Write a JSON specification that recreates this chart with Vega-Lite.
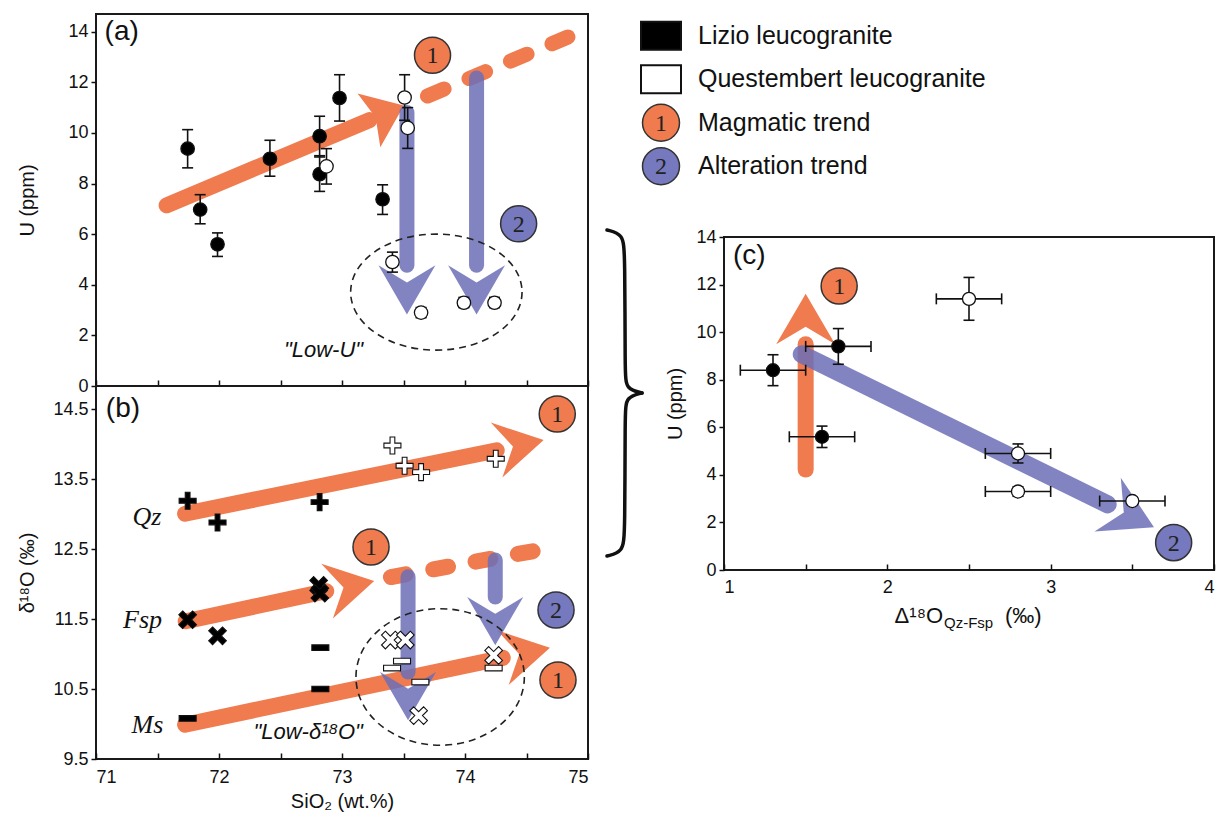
{
  "$schema": "https://vega.github.io/schema/vega-lite/v6.json",
  "background": "white",
  "padding": {"left": 16, "top": 6, "right": 6, "bottom": 6},
  "config": {
    "font": "Liberation Sans",
    "view": {"stroke": "#1a1a1a", "strokeWidth": 2},
    "axis": {"grid": false, "domain": false, "labelFont": "Liberation Sans, DejaVu Sans", "labelFontSize": 18, "labelColor": "#111", "titleFont": "Liberation Sans, DejaVu Sans", "titleFontSize": 20, "titleFontWeight": "normal", "titleColor": "#111", "tickColor": "#111", "tickWidth": 1.5, "tickSize": 5, "labelPadding": 3},
    "text": {"font": "Liberation Sans, DejaVu Sans", "color": "#111"}
  },
  "datasets": {
    "apts": [
      {"sio2": 71.745, "u": 9.38, "u_lo": 8.62, "u_hi": 10.13, "key": "Lizio"},
      {"sio2": 71.847, "u": 6.97, "u_lo": 6.41, "u_hi": 7.56, "key": "Lizio"},
      {"sio2": 71.988, "u": 5.6, "u_lo": 5.12, "u_hi": 6.05, "key": "Lizio"},
      {"sio2": 72.414, "u": 8.98, "u_lo": 8.29, "u_hi": 9.71, "key": "Lizio"},
      {"sio2": 72.818, "u": 9.87, "u_lo": 9.05, "u_hi": 10.66, "key": "Lizio"},
      {"sio2": 72.818, "u": 8.37, "u_lo": 7.69, "u_hi": 9.1, "key": "Lizio"},
      {"sio2": 72.98, "u": 11.38, "u_lo": 10.47, "u_hi": 12.3, "key": "Lizio"},
      {"sio2": 73.33, "u": 7.38, "u_lo": 6.78, "u_hi": 7.95, "key": "Lizio"},
      {"sio2": 72.874, "u": 8.68, "u_lo": 7.98, "u_hi": 9.38, "key": "Questembert"},
      {"sio2": 73.509, "u": 11.4, "u_lo": 10.5, "u_hi": 12.3, "key": "Questembert"},
      {"sio2": 73.534, "u": 10.2, "u_lo": 9.39, "u_hi": 11.0, "key": "Questembert"},
      {"sio2": 73.41, "u": 4.9, "u_lo": 4.5, "u_hi": 5.29, "key": "Questembert"},
      {"sio2": 73.643, "u": 2.9, "u_lo": 2.7, "u_hi": 3.1, "key": "Questembert"},
      {"sio2": 73.991, "u": 3.29, "u_lo": 3.1, "u_hi": 3.5, "key": "Questembert"},
      {"sio2": 74.24, "u": 3.29, "u_lo": 3.1, "u_hi": 3.5, "key": "Questembert"}
    ],
    "bpts": [
      {"sio2": 71.745, "d18o": 13.19, "mineral": "Qz", "key": "Lizio"},
      {"sio2": 71.988, "d18o": 12.88, "mineral": "Qz", "key": "Lizio"},
      {"sio2": 72.818, "d18o": 13.17, "mineral": "Qz", "key": "Lizio"},
      {"sio2": 73.41, "d18o": 13.98, "mineral": "Qz", "key": "Questembert"},
      {"sio2": 73.509, "d18o": 13.69, "mineral": "Qz", "key": "Questembert"},
      {"sio2": 73.643, "d18o": 13.6, "mineral": "Qz", "key": "Questembert"},
      {"sio2": 74.25, "d18o": 13.79, "mineral": "Qz", "key": "Questembert"},
      {"sio2": 71.745, "d18o": 11.49, "mineral": "Fsp", "key": "Lizio"},
      {"sio2": 71.988, "d18o": 11.26, "mineral": "Fsp", "key": "Lizio"},
      {"sio2": 72.81, "d18o": 11.98, "mineral": "Fsp", "key": "Lizio"},
      {"sio2": 72.82, "d18o": 11.87, "mineral": "Fsp", "key": "Lizio"},
      {"sio2": 73.393, "d18o": 11.2, "mineral": "Fsp", "key": "Questembert"},
      {"sio2": 73.515, "d18o": 11.2, "mineral": "Fsp", "key": "Questembert"},
      {"sio2": 73.623, "d18o": 10.12, "mineral": "Fsp", "key": "Questembert"},
      {"sio2": 74.233, "d18o": 10.98, "mineral": "Fsp", "key": "Questembert"},
      {"sio2": 71.745, "d18o": 10.08, "mineral": "Ms", "key": "Lizio"},
      {"sio2": 72.824, "d18o": 11.09, "mineral": "Ms", "key": "Lizio"},
      {"sio2": 72.824, "d18o": 10.5, "mineral": "Ms", "key": "Lizio"},
      {"sio2": 73.407, "d18o": 10.8, "mineral": "Ms", "key": "Questembert"},
      {"sio2": 73.488, "d18o": 10.9, "mineral": "Ms", "key": "Questembert"},
      {"sio2": 73.637, "d18o": 10.6, "mineral": "Ms", "key": "Questembert"},
      {"sio2": 74.233, "d18o": 10.8, "mineral": "Ms", "key": "Questembert"}
    ],
    "cpts": [
      {"dq": 1.3, "u": 8.4, "u_lo": 7.75, "u_hi": 9.05, "dq_lo": 1.1, "dq_hi": 1.5, "key": "Lizio"},
      {"dq": 1.7, "u": 9.4, "u_lo": 8.65, "u_hi": 10.15, "dq_lo": 1.5, "dq_hi": 1.9, "key": "Lizio"},
      {"dq": 1.6, "u": 5.6, "u_lo": 5.15, "u_hi": 6.05, "dq_lo": 1.4, "dq_hi": 1.8, "key": "Lizio"},
      {"dq": 2.5, "u": 11.4, "u_lo": 10.5, "u_hi": 12.3, "dq_lo": 2.3, "dq_hi": 2.7, "key": "Questembert"},
      {"dq": 2.8, "u": 4.9, "u_lo": 4.5, "u_hi": 5.3, "dq_lo": 2.6, "dq_hi": 3.0, "key": "Questembert"},
      {"dq": 2.8, "u": 3.3, "u_lo": 3.1, "u_hi": 3.5, "dq_lo": 2.6, "dq_hi": 3.0, "key": "Questembert"},
      {"dq": 3.5, "u": 2.9, "u_lo": 2.75, "u_hi": 3.05, "dq_lo": 3.3, "dq_hi": 3.7, "key": "Questembert"}
    ]
  },
  "spacing": 0,
  "hconcat": [
    {
      "vconcat": [
        {
          "width": 492,
          "height": 372,
          "encoding": {
            "x": {"field": "sio2", "type": "quantitative", "scale": {"domain": [71, 75], "nice": false, "zero": false}, "axis": {"values": [71, 71.5, 72, 72.5, 73, 73.5, 74, 74.5, 75], "labels": false, "tickSize": -6, "title": null}},
            "y": {"field": "u", "type": "quantitative", "scale": {"domain": [0, 14.7], "nice": false, "zero": false}, "axis": {"values": [0, 2, 4, 6, 8, 10, 12, 14], "title": "U (ppm)", "titlePadding": 30}}
          },
          "layer": [
            {"data": {"values": [{"sio2": 71.574, "u": 7.14}, {"sio2": 73.224, "u": 10.51}]},
             "mark": {"type": "line", "stroke": "#ef7b4f", "strokeWidth": 16, "strokeCap": "round"}},
            {"data": {"values": [{"sio2": 73.35, "u": 10.77}]},
             "mark": {"type": "point", "shape": "M -0.6 -1 L 0.7 0 L -0.6 1 L -0.35 0 Z", "size": 3400, "angle": 337, "filled": true, "fill": "#ef7b4f", "strokeWidth": 0, "opacity": 1}},
            {"data": {"values": [{"sio2": 73.695, "u": 11.46}, {"sio2": 74.837, "u": 13.79}]},
             "mark": {"type": "line", "stroke": "#ef7b4f", "strokeWidth": 15, "strokeCap": "round", "strokeDash": [18, 27]}},
            {"data": {"values": [{"arrow": "a", "sio2": 73.528, "u": 10.81}, {"arrow": "a", "sio2": 73.528, "u": 4.77}, {"arrow": "b", "sio2": 74.094, "u": 12.17}, {"arrow": "b", "sio2": 74.094, "u": 4.77}]},
             "mark": {"type": "line", "stroke": "#6c6eb7", "strokeWidth": 15, "strokeCap": "round", "opacity": 0.85},
             "encoding": {"detail": {"field": "arrow"}}},
            {"data": {"values": [{"sio2": 73.528, "u": 3.81}, {"sio2": 74.094, "u": 3.81}]},
             "mark": {"type": "point", "shape": "M -0.85 -1 L 0.87 0 L -0.85 1 L -0.25 0 Z", "size": 3249, "angle": 90, "filled": true, "fill": "#6c6eb7", "strokeWidth": 0, "opacity": 0.85}},
            {"data": {"values": [{"sio2": 73.767, "u": 3.71}]},
             "mark": {"type": "point", "shape": "M 1 0 C 1 0.374 0.552 0.677 0 0.677 C -0.552 0.677 -1 0.374 -1 0 C -1 -0.374 -0.552 -0.677 0 -0.677 C 0.552 -0.677 1 -0.374 1 0 Z", "size": 29378, "filled": false, "stroke": "#222", "strokeWidth": 1.6, "strokeDash": [7, 5], "opacity": 1}},
            {"data": {"name": "apts"},
             "mark": {"type": "rule", "color": "#111", "strokeWidth": 1.6},
             "encoding": {"y": {"field": "u_lo", "type": "quantitative", "title": "U (ppm)"}, "y2": {"field": "u_hi"}}},
            {"data": {"name": "apts"},
             "mark": {"type": "point", "shape": "stroke", "size": 121, "filled": false, "stroke": "#111", "strokeWidth": 1.6, "opacity": 1},
             "encoding": {"y": {"field": "u_lo", "type": "quantitative", "title": "U (ppm)"}}},
            {"data": {"name": "apts"},
             "mark": {"type": "point", "shape": "stroke", "size": 121, "filled": false, "stroke": "#111", "strokeWidth": 1.6, "opacity": 1},
             "encoding": {"y": {"field": "u_hi", "type": "quantitative", "title": "U (ppm)"}}},
            {"data": {"name": "apts"},
             "mark": {"type": "point", "shape": "circle", "size": 180, "filled": true, "stroke": "#111", "strokeWidth": 1.3, "opacity": 1},
             "encoding": {"fill": {"field": "key", "type": "nominal", "scale": {"domain": ["Lizio", "Questembert", "1", "2"], "range": ["#000000", "#ffffff", "#ef7b4f", "#7679bd"]}, "legend": null}}},
            {"data": {"values": [{"sio2": 73.736, "u": 13.07, "key": "1"}, {"sio2": 74.436, "u": 6.41, "key": "2"}]},
             "mark": {"type": "point", "shape": "circle", "size": 1300, "filled": true, "stroke": "#333", "strokeWidth": 1.5, "opacity": 1},
             "encoding": {"fill": {"field": "key", "type": "nominal", "scale": {"domain": ["Lizio", "Questembert", "1", "2"], "range": ["#000000", "#ffffff", "#ef7b4f", "#7679bd"]}, "legend": null}}},
            {"data": {"values": [{"sio2": 73.736, "u": 13.07, "key": "1"}, {"sio2": 74.436, "u": 6.41, "key": "2"}]},
             "mark": {"type": "text", "font": "Liberation Serif", "fontSize": 24, "color": "#222", "dy": 1},
             "encoding": {"text": {"field": "key"}}},
            {"data": {"values": [{"sio2": 71.07, "u": 13.99, "txt": "(a)"}]},
             "mark": {"type": "text", "align": "left", "fontSize": 28},
             "encoding": {"text": {"field": "txt"}}},
            {"data": {"values": [{"sio2": 72.85, "u": 1.41, "txt": "\"Low-U\""}]},
             "mark": {"type": "text", "fontSize": 22, "fontStyle": "italic"},
             "encoding": {"text": {"field": "txt"}}}
          ]
        },
        {
          "width": 492,
          "height": 373,
          "encoding": {
            "x": {"field": "sio2", "type": "quantitative", "scale": {"domain": [71, 75], "nice": false, "zero": false}, "axis": {"values": [71, 71.5, 72, 72.5, 73, 73.5, 74, 74.5, 75], "labelExpr": "datum.value % 1 == 0 ? format(datum.value, 'd') : ''", "tickSize": -6, "labelPadding": 15, "title": "SiO₂ (wt.%)", "titlePadding": 5}},
            "y": {"field": "d18o", "type": "quantitative", "scale": {"domain": [9.5, 14.83], "nice": false, "zero": false}, "axis": {"values": [9.5, 10.5, 11.5, 12.5, 13.5, 14.5], "format": ".1f", "title": "δ¹⁸O (‰)", "titlePadding": 15}}
          },
          "layer": [
            {"data": {"values": [{"arrow": "qz", "sio2": 71.724, "d18o": 13.005}, {"arrow": "qz", "sio2": 74.258, "d18o": 13.911}, {"arrow": "fsp", "sio2": 71.729, "d18o": 11.468}, {"arrow": "fsp", "sio2": 72.872, "d18o": 11.898}, {"arrow": "ms", "sio2": 71.724, "d18o": 9.99}, {"arrow": "ms", "sio2": 74.307, "d18o": 10.946}]},
             "mark": {"type": "line", "stroke": "#ef7b4f", "strokeWidth": 16, "strokeCap": "round"},
             "encoding": {"detail": {"field": "arrow"}}},
            {"data": {"values": [{"sio2": 74.446, "d18o": 13.986}, {"sio2": 73.068, "d18o": 11.971}, {"sio2": 74.497, "d18o": 11.018}]},
             "mark": {"type": "point", "shape": "M -0.85 -1 L 0.87 0 L -0.85 1 L -0.25 0 Z", "size": 3136, "angle": 348, "filled": true, "fill": "#ef7b4f", "strokeWidth": 0, "opacity": 1}},
            {"data": {"values": [{"sio2": 73.398, "d18o": 12.1}, {"sio2": 74.561, "d18o": 12.472}]},
             "mark": {"type": "line", "stroke": "#ef7b4f", "strokeWidth": 16, "strokeCap": "round", "strokeDash": [15, 28]}},
            {"data": {"values": [{"arrow": "a", "sio2": 73.537, "d18o": 12.105}, {"arrow": "a", "sio2": 73.537, "d18o": 10.743}, {"arrow": "b", "sio2": 74.246, "d18o": 12.344}, {"arrow": "b", "sio2": 74.246, "d18o": 11.815}]},
             "mark": {"type": "line", "stroke": "#6c6eb7", "strokeWidth": 15, "strokeCap": "round", "opacity": 0.85},
             "encoding": {"detail": {"field": "arrow"}}},
            {"data": {"values": [{"sio2": 73.537, "d18o": 10.403}, {"sio2": 74.246, "d18o": 11.475}]},
             "mark": {"type": "point", "shape": "M -0.85 -1 L 0.87 0 L -0.85 1 L -0.25 0 Z", "size": 3136, "angle": 90, "filled": true, "fill": "#6c6eb7", "strokeWidth": 0, "opacity": 0.85}},
            {"data": {"values": [{"sio2": 73.798, "d18o": 10.672}]},
             "mark": {"type": "point", "shape": "M 1 0 C 1 0.448 0.552 0.811 0 0.811 C -0.552 0.811 -1 0.448 -1 0 C -1 -0.448 -0.552 -0.811 0 -0.811 C 0.552 -0.811 1 -0.448 1 0 Z", "size": 28359, "filled": false, "stroke": "#222", "strokeWidth": 1.6, "strokeDash": [7, 5], "opacity": 1}},
            {"data": {"name": "bpts"},
             "transform": [{"filter": "datum.mineral == 'Qz'"}],
             "mark": {"type": "point", "shape": "M -1 -0.28 L -0.28 -0.28 L -0.28 -1 L 0.28 -1 L 0.28 -0.28 L 1 -0.28 L 1 0.28 L 0.28 0.28 L 0.28 1 L -0.28 1 L -0.28 0.28 L -1 0.28 Z", "size": 289, "filled": true, "stroke": "#111", "strokeWidth": 1.1, "opacity": 1},
             "encoding": {"fill": {"field": "key", "type": "nominal", "scale": {"domain": ["Lizio", "Questembert", "1", "2"], "range": ["#000000", "#ffffff", "#ef7b4f", "#7679bd"]}, "legend": null}}},
            {"data": {"name": "bpts"},
             "transform": [{"filter": "datum.mineral == 'Fsp'"}],
             "mark": {"type": "point", "shape": "M -1 -0.28 L -0.28 -0.28 L -0.28 -1 L 0.28 -1 L 0.28 -0.28 L 1 -0.28 L 1 0.28 L 0.28 0.28 L 0.28 1 L -0.28 1 L -0.28 0.28 L -1 0.28 Z", "size": 380, "angle": 45, "filled": true, "stroke": "#111", "strokeWidth": 1.1, "opacity": 1},
             "encoding": {"fill": {"field": "key", "type": "nominal", "scale": {"domain": ["Lizio", "Questembert", "1", "2"], "range": ["#000000", "#ffffff", "#ef7b4f", "#7679bd"]}, "legend": null}}},
            {"data": {"name": "bpts"},
             "transform": [{"filter": "datum.mineral == 'Ms'"}],
             "mark": {"type": "point", "shape": "M -1 -0.33 L 1 -0.33 L 1 0.33 L -1 0.33 Z", "size": 289, "filled": true, "stroke": "#111", "strokeWidth": 1.1, "opacity": 1},
             "encoding": {"fill": {"field": "key", "type": "nominal", "scale": {"domain": ["Lizio", "Questembert", "1", "2"], "range": ["#000000", "#ffffff", "#ef7b4f", "#7679bd"]}, "legend": null}}},
            {"data": {"values": [{"sio2": 74.75, "d18o": 14.43, "key": "1"}, {"sio2": 73.236, "d18o": 12.53, "key": "1"}, {"sio2": 74.756, "d18o": 10.63, "key": "1"}, {"sio2": 74.74, "d18o": 11.63, "key": "2"}]},
             "mark": {"type": "point", "shape": "circle", "size": 1300, "filled": true, "stroke": "#333", "strokeWidth": 1.5, "opacity": 1},
             "encoding": {"fill": {"field": "key", "type": "nominal", "scale": {"domain": ["Lizio", "Questembert", "1", "2"], "range": ["#000000", "#ffffff", "#ef7b4f", "#7679bd"]}, "legend": null}}},
            {"data": {"values": [{"sio2": 74.75, "d18o": 14.43, "key": "1"}, {"sio2": 73.236, "d18o": 12.53, "key": "1"}, {"sio2": 74.756, "d18o": 10.63, "key": "1"}, {"sio2": 74.74, "d18o": 11.63, "key": "2"}]},
             "mark": {"type": "text", "font": "Liberation Serif", "fontSize": 24, "color": "#222", "dy": 1},
             "encoding": {"text": {"field": "key"}}},
            {"data": {"values": [{"sio2": 71.415, "d18o": 12.96, "txt": "Qz"}, {"sio2": 71.379, "d18o": 11.48, "txt": "Fsp"}, {"sio2": 71.418, "d18o": 9.98, "txt": "Ms"}]},
             "mark": {"type": "text", "font": "Liberation Serif", "fontStyle": "italic", "fontSize": 26},
             "encoding": {"text": {"field": "txt"}}},
            {"data": {"values": [{"sio2": 71.08, "d18o": 14.5, "txt": "(b)"}]},
             "mark": {"type": "text", "align": "left", "fontSize": 28},
             "encoding": {"text": {"field": "txt"}}},
            {"data": {"values": [{"sio2": 72.725, "d18o": 9.886, "txt": "\"Low-δ¹⁸O\""}]},
             "mark": {"type": "text", "fontSize": 22, "fontStyle": "italic"},
             "encoding": {"text": {"field": "txt"}}}
          ]
        }
      ],
      "spacing": 0,
      "bounds": "flush"
    },
    {
      "concat": [
        {
          "width": 400,
          "height": 174,
          "view": {"stroke": null},
          "data": {"values": [
            {"label": "Lizio leucogranite", "key": "Lizio"},
            {"label": "Questembert leucogranite", "key": "Questembert"},
            {"label": "Magmatic trend", "key": "1"},
            {"label": "Alteration trend", "key": "2"}
          ]},
          "encoding": {
            "y": {"field": "label", "type": "nominal", "sort": null, "scale": {"type": "point", "padding": 0.5}, "axis": null}
          },
          "layer": [
            {"transform": [{"filter": "datum.key == 'Lizio' || datum.key == 'Questembert'"}],
             "mark": {"type": "point", "shape": "M -1 -0.7 L 1 -0.7 L 1 0.7 L -1 0.7 Z", "size": 1600, "filled": true, "stroke": "#111", "strokeWidth": 2, "opacity": 1},
             "encoding": {
               "x": {"datum": -1.575, "type": "quantitative", "scale": {"domain": [0, 10], "nice": false, "zero": false}, "axis": null},
               "fill": {"field": "key", "type": "nominal", "scale": {"domain": ["Lizio", "Questembert", "1", "2"], "range": ["#000000", "#ffffff", "#ef7b4f", "#7679bd"]}, "legend": null}
             }},
            {"transform": [{"filter": "datum.key == '1' || datum.key == '2'"}],
             "mark": {"type": "point", "shape": "circle", "size": 1369, "filled": true, "stroke": "#333", "strokeWidth": 1.5, "opacity": 1},
             "encoding": {
               "x": {"datum": -1.575, "type": "quantitative"},
               "fill": {"field": "key", "type": "nominal", "scale": {"domain": ["Lizio", "Questembert", "1", "2"], "range": ["#000000", "#ffffff", "#ef7b4f", "#7679bd"]}, "legend": null}
             }},
            {"transform": [{"filter": "datum.key == '1' || datum.key == '2'"}],
             "mark": {"type": "text", "font": "Liberation Serif", "fontSize": 24, "color": "#222", "dy": 1},
             "encoding": {"x": {"datum": -1.575, "type": "quantitative"}, "text": {"field": "key"}}},
            {"mark": {"type": "text", "align": "left", "fontSize": 25},
             "encoding": {"x": {"datum": -0.65, "type": "quantitative"}, "text": {"field": "label"}}}
          ]
        },
        {
          "width": 490,
          "height": 333,
          "encoding": {
            "x": {"field": "dq", "type": "quantitative", "scale": {"domain": [1, 4], "nice": false, "zero": false}, "axis": {"values": [1, 1.5, 2, 2.5, 3, 3.5, 4], "labelExpr": "datum.value % 1 == 0 ? format(datum.value, 'd') : ''", "tickSize": -6, "labelPadding": 14, "title": null}},
            "y": {"field": "u", "type": "quantitative", "scale": {"domain": [0, 14], "nice": false, "zero": false}, "axis": {"values": [0, 2, 4, 6, 8, 10, 12, 14], "title": "U (ppm)", "titlePadding": 10}}
          },
          "layer": [
            {"data": {"values": [
               {"half": "top", "o": 0, "dq": 0.2837, "u": 14.294},
               {"half": "top", "o": 1, "dq": 0.3816, "u": 14.126},
               {"half": "top", "o": 2, "dq": 0.3939, "u": 13.327},
               {"half": "top", "o": 3, "dq": 0.3939, "u": 8.282},
               {"half": "top", "o": 4, "dq": 0.4, "u": 7.61},
               {"half": "top", "o": 5, "dq": 0.4979, "u": 7.442},
               {"half": "bottom", "o": 0, "dq": 0.4979, "u": 7.442},
               {"half": "bottom", "o": 1, "dq": 0.4, "u": 7.273},
               {"half": "bottom", "o": 2, "dq": 0.3939, "u": 6.601},
               {"half": "bottom", "o": 3, "dq": 0.3939, "u": 1.556},
               {"half": "bottom", "o": 4, "dq": 0.3816, "u": 0.757},
               {"half": "bottom", "o": 5, "dq": 0.2837, "u": 0.589}
             ]},
             "mark": {"type": "line", "stroke": "#111", "strokeWidth": 3.5, "interpolate": "basis", "strokeCap": "round"},
             "encoding": {"detail": {"field": "half"}, "order": {"field": "o", "type": "quantitative"}}},
            {"data": {"values": [{"dq": 1.5, "u": 4.22}, {"dq": 1.5, "u": 9.49}]},
             "mark": {"type": "line", "stroke": "#ef7b4f", "strokeWidth": 16, "strokeCap": "round"}},
            {"data": {"values": [{"dq": 1.5, "u": 10.54}]},
             "mark": {"type": "point", "shape": "M -0.85 -1 L 0.87 0 L -0.85 1 L -0.25 0 Z", "size": 3481, "angle": 270, "filled": true, "fill": "#ef7b4f", "strokeWidth": 0, "opacity": 1}},
            {"data": {"values": [{"dq": 1.476, "u": 9.07}, {"dq": 3.349, "u": 2.76}]},
             "mark": {"type": "line", "stroke": "#6c6eb7", "strokeWidth": 18, "strokeCap": "round", "opacity": 0.85}},
            {"data": {"values": [{"dq": 3.489, "u": 2.28}]},
             "mark": {"type": "point", "shape": "M -0.85 -1 L 0.87 0 L -0.85 1 L -0.25 0 Z", "size": 3600, "angle": 26, "filled": true, "fill": "#6c6eb7", "strokeWidth": 0, "opacity": 0.85}},
            {"data": {"name": "cpts"},
             "mark": {"type": "rule", "color": "#111", "strokeWidth": 1.6},
             "encoding": {"y": {"field": "u_lo", "type": "quantitative", "title": "U (ppm)"}, "y2": {"field": "u_hi"}}},
            {"data": {"name": "cpts"},
             "mark": {"type": "rule", "color": "#111", "strokeWidth": 1.6},
             "encoding": {"x": {"field": "dq_lo", "type": "quantitative", "title": null}, "x2": {"field": "dq_hi"}}},
            {"data": {"name": "cpts"},
             "mark": {"type": "point", "shape": "stroke", "size": 121, "filled": false, "stroke": "#111", "strokeWidth": 1.6, "opacity": 1},
             "encoding": {"y": {"field": "u_lo", "type": "quantitative", "title": "U (ppm)"}}},
            {"data": {"name": "cpts"},
             "mark": {"type": "point", "shape": "stroke", "size": 121, "filled": false, "stroke": "#111", "strokeWidth": 1.6, "opacity": 1},
             "encoding": {"y": {"field": "u_hi", "type": "quantitative", "title": "U (ppm)"}}},
            {"data": {"name": "cpts"},
             "mark": {"type": "point", "shape": "stroke", "size": 121, "angle": 90, "filled": false, "stroke": "#111", "strokeWidth": 1.6, "opacity": 1},
             "encoding": {"x": {"field": "dq_lo", "type": "quantitative", "title": null}}},
            {"data": {"name": "cpts"},
             "mark": {"type": "point", "shape": "stroke", "size": 121, "angle": 90, "filled": false, "stroke": "#111", "strokeWidth": 1.6, "opacity": 1},
             "encoding": {"x": {"field": "dq_hi", "type": "quantitative", "title": null}}},
            {"data": {"name": "cpts"},
             "mark": {"type": "point", "shape": "circle", "size": 170, "filled": true, "stroke": "#111", "strokeWidth": 1.3, "opacity": 1},
             "encoding": {"fill": {"field": "key", "type": "nominal", "scale": {"domain": ["Lizio", "Questembert", "1", "2"], "range": ["#000000", "#ffffff", "#ef7b4f", "#7679bd"]}, "legend": null}}},
            {"data": {"values": [{"dq": 1.705, "u": 11.94, "key": "1"}, {"dq": 3.753, "u": 1.15, "key": "2"}]},
             "mark": {"type": "point", "shape": "circle", "size": 1300, "filled": true, "stroke": "#333", "strokeWidth": 1.5, "opacity": 1},
             "encoding": {"fill": {"field": "key", "type": "nominal", "scale": {"domain": ["Lizio", "Questembert", "1", "2"], "range": ["#000000", "#ffffff", "#ef7b4f", "#7679bd"]}, "legend": null}}},
            {"data": {"values": [{"dq": 1.705, "u": 11.94, "key": "1"}, {"dq": 3.753, "u": 1.15, "key": "2"}]},
             "mark": {"type": "text", "font": "Liberation Serif", "fontSize": 24, "color": "#222", "dy": 1},
             "encoding": {"text": {"field": "key"}}},
            {"data": {"values": [{"dq": 1.055, "u": 13.2, "txt": "(c)"}]},
             "mark": {"type": "text", "align": "left", "fontSize": 28},
             "encoding": {"text": {"field": "txt"}}},
            {"data": {"values": [{"dq": 2.341, "u": -2.23, "txt": "Δ¹⁸O"}]},
             "mark": {"type": "text", "align": "right", "baseline": "alphabetic", "fontSize": 22},
             "encoding": {"text": {"field": "txt"}}},
            {"data": {"values": [{"dq": 2.347, "u": -2.45, "txt": "Qz-Fsp"}]},
             "mark": {"type": "text", "align": "left", "baseline": "alphabetic", "fontSize": 15},
             "encoding": {"text": {"field": "txt"}}},
            {"data": {"values": [{"dq": 2.72, "u": -2.23, "txt": "(‰)"}]},
             "mark": {"type": "text", "align": "left", "baseline": "alphabetic", "fontSize": 22},
             "encoding": {"text": {"field": "txt"}}}
          ]
        }
      ],
      "columns": 1,
      "align": "none",
      "spacing": 34
    }
  ]
}
